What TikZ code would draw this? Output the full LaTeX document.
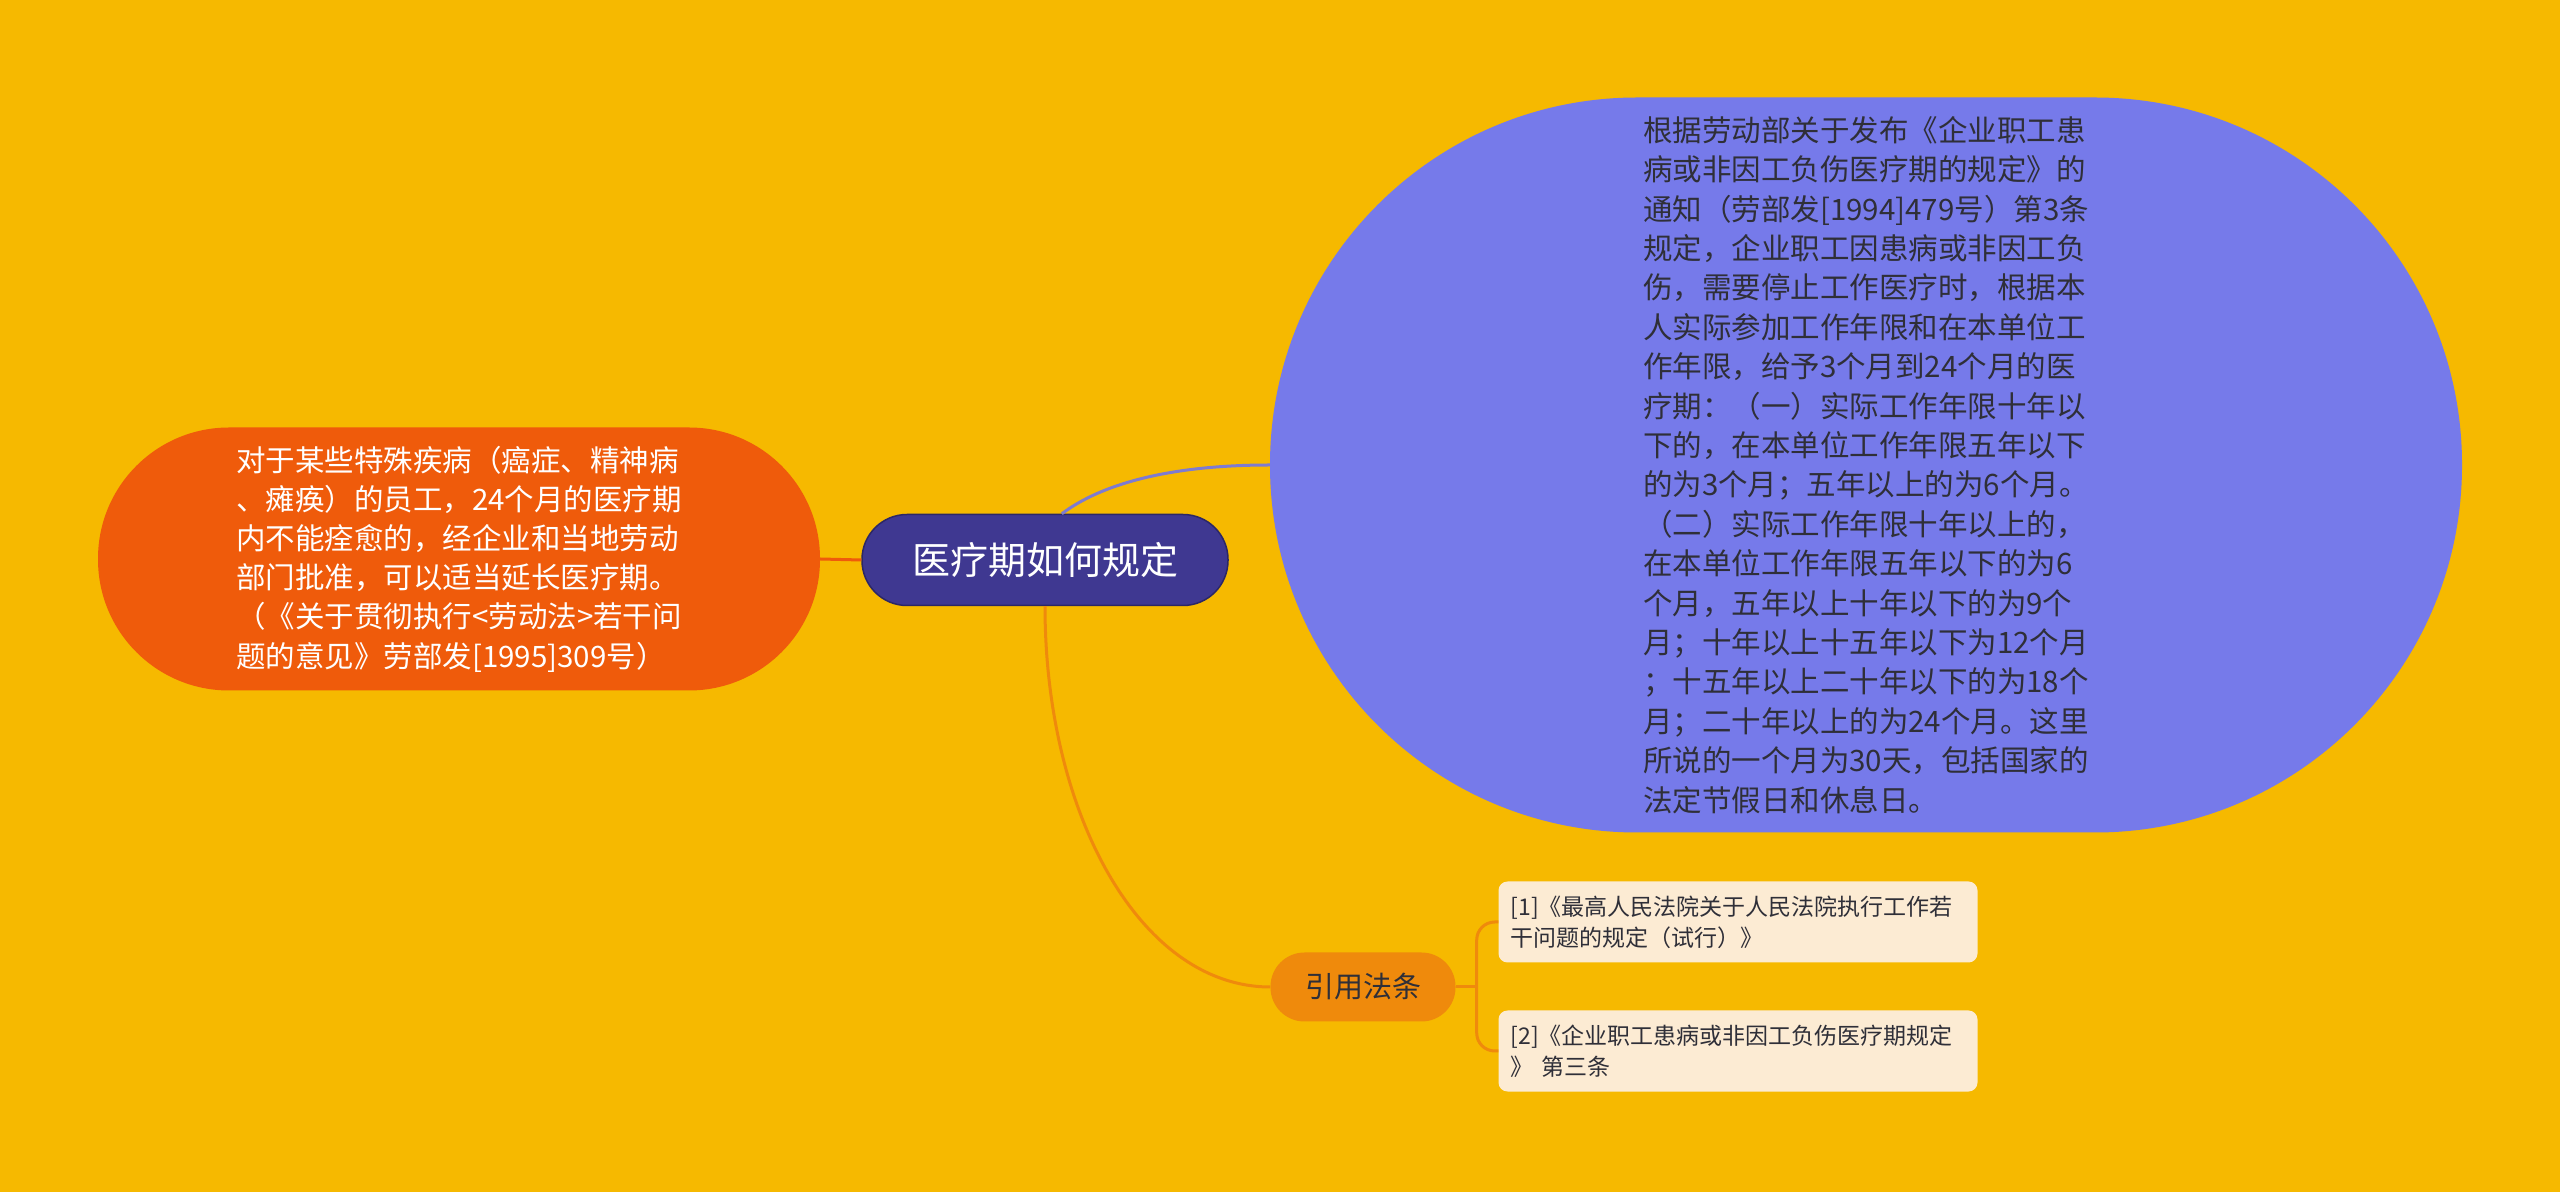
\documentclass[tikz,border=0pt]{standalone}
\usepackage{fontspec}
\setmainfont{Noto Sans CJK SC}
\usepackage{tikz}
\definecolor{bgyellow}{HTML}{F6B900}
\definecolor{rootblue}{HTML}{3F3891}
\definecolor{rootedge}{HTML}{2C2766}
\definecolor{bigblue}{HTML}{767AEA}
\definecolor{linkblue}{HTML}{7E7BD0}
\definecolor{redorange}{HTML}{EF5B0B}
\definecolor{orange}{HTML}{EF8A0C}
\definecolor{cream}{HTML}{FCEBD3}
\definecolor{darktext}{HTML}{2F2F38}

\begin{document}
\begin{tikzpicture}[x=1pt, y=1pt, node distance={129pt},
        main/.style = {fill=rootblue, draw=rootedge, line width=1.5pt, rounded corners=45pt, minimum width=366pt, minimum height=91pt, text=white, font=\fontsize{38}{46}\selectfont},
        note/.style = {fill=redorange, rounded corners=131pt, minimum width=722pt, minimum height=263pt, text=white, align=left, font=\fontsize{29.5}{39.2}\selectfont},
        rule/.style = {fill=bigblue, rounded corners=367pt, minimum width=1192pt, minimum height=735pt, text=darktext, align=left, font=\fontsize{29.5}{39.4}\selectfont},
        cite/.style = {fill=orange, rounded corners=34pt, minimum width=185pt, minimum height=69pt, text=darktext, font=\fontsize{29}{36}\selectfont},
        ref/.style = {fill=cream, rounded corners=9pt, text width=455pt, inner sep=12pt, minimum height=81pt, align=left, text=darktext, font=\fontsize{23}{31}\selectfont},
        link/.style = {line width=3pt}]

            \fill[bgyellow] (0,0) rectangle (2560,1192);
            \useasboundingbox (0,0) rectangle (2560,1192);

            \node[main] (m) at (1045,632) {医疗期如何规定};
            \node[note] (n) at (459,633) {对于某些特殊疾病（癌症、精神病\\
                、瘫痪）的员工，24个月的医疗期\\
                内不能痊愈的，经企业和当地劳动\\
                部门批准，可以适当延长医疗期。\\
                （《关于贯彻执行<劳动法>若干问\\
                题的意见》劳部发[1995]309号）};
            \node[rule] (r) at (1866,727) {根据劳动部关于发布《企业职工患\\
                病或非因工负伤医疗期的规定》的\\
                通知（劳部发[1994]479号）第3条\\
                规定，企业职工因患病或非因工负\\
                伤，需要停止工作医疗时，根据本\\
                人实际参加工作年限和在本单位工\\
                作年限，给予3个月到24个月的医\\
                疗期：（一）实际工作年限十年以\\
                下的，在本单位工作年限五年以下\\
                的为3个月；五年以上的为6个月。\\
                （二）实际工作年限十年以上的，\\
                在本单位工作年限五年以下的为6\\
                个月，五年以上十年以下的为9个\\
                月；十年以上十五年以下为12个月\\
                ；十五年以上二十年以下的为18个\\
                月；二十年以上的为24个月。这里\\
                所说的一个月为30天，包括国家的\\
                法定节假日和休息日。};
            \node[cite] (c) at (1363,205) {引用法条};
            \node[ref] (r1) at (1738,270) {[1]《最高人民法院关于人民法院执行工作若\\干问题的规定（试行）》};
            \node[ref] (r2) [below of=r1] {[2]《企业职工患病或非因工负伤医疗期规定\\》 第三条};

            \draw[link, redorange] (m.west) -- (n.east);
            \draw[link, linkblue] (m.70) .. controls +(40,30) and +(-100,0) .. (r.west);
            \draw[link, orange] (m.south) .. controls +(0,-208) and +(-130,0) .. (c.west);
            \draw[link, orange] (c.east) -- ++(21,0) coordinate (fork);
            \draw[link, orange, rounded corners=18pt] (fork) |- (r1.west);
            \draw[link, orange, rounded corners=18pt] (fork) |- (r2.west);

\end{tikzpicture}
\end{document}
